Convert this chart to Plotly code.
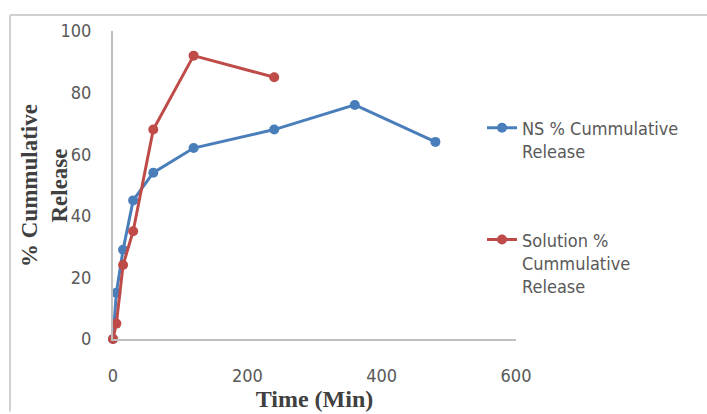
import plotly.graph_objects as go

# Sampling times (minutes) and cumulative drug release (%)
time_ns = [0, 5, 15, 30, 60, 120, 240, 360, 480]
release_ns = [0, 15, 29, 45, 54, 62, 68, 76, 64]

time_sol = [0, 5, 15, 30, 60, 120, 240]
release_sol = [0, 5, 24, 35, 68, 92, 85]

x_ticks = [0, 200, 400, 600]
y_ticks = [0, 20, 40, 60, 80, 100]

W, H = 707, 414
L, R, T, B = 113, 191, 31, 73
PW, PH = W - L - R, H - T - B


def px_to_paper(px, py):
    return (px - L) / PW, (H - B - py) / PH


BLUE = "#4A7EBB"
RED = "#BE4B48"
GREY_TXT = "#595959"
NARROW = "Liberation Sans Narrow, DejaVu Sans Condensed, sans-serif"
SERIF = "Liberation Serif, serif"

fig = go.Figure()
fig.add_trace(go.Scatter(
    x=time_ns, y=release_ns, mode="lines+markers",
    name="NS % Cummulative<br>Release",
    line=dict(color=BLUE, width=3),
    marker=dict(color=BLUE, size=10),
    legendgroup="ns", cliponaxis=False,
))
fig.add_trace(go.Scatter(
    x=time_sol, y=release_sol, mode="lines+markers",
    name="Solution %<br>Cummulative<br>Release",
    line=dict(color=RED, width=3),
    marker=dict(color=RED, size=10),
    legendgroup="sol", cliponaxis=False,
))

# outer chart frame (top and left edges)
x0, y0 = px_to_paper(10, 15)
x1, _ = px_to_paper(707, 15)
_, y1 = px_to_paper(10, 414)
fig.add_shape(type="line", xref="paper", yref="paper", x0=x0, y0=y0, x1=x1, y1=y0,
              line=dict(color="#D0D0D0", width=2))
fig.add_shape(type="line", xref="paper", yref="paper", x0=x0, y0=y0, x1=x0, y1=y1,
              line=dict(color="#D0D0D0", width=2))

# vertical axis title, set close to the tick labels
tx, ty = px_to_paper(45, 187)
fig.add_annotation(
    x=tx, y=ty, xref="paper", yref="paper", showarrow=False,
    text="<b>% Cummulative<br>Release</b>", textangle=-90,
    font=dict(family=SERIF, size=23, color="#404040"),
    xanchor="center", yanchor="middle",
)

lx, ly = px_to_paper(482, 110)

fig.update_layout(
    width=W, height=H,
    margin=dict(l=L, r=R, t=T, b=B),
    paper_bgcolor="white", plot_bgcolor="white",
    font=dict(family=NARROW, size=18, color=GREY_TXT),
    showlegend=True,
    legend=dict(
        x=lx, y=ly, xanchor="left", yanchor="top",
        traceorder="grouped", tracegroupgap=62, valign="top",
        font=dict(family=NARROW, size=18, color=GREY_TXT),
        bgcolor="rgba(0,0,0,0)",
    ),
    xaxis=dict(
        range=[0, 600], tickvals=x_ticks, showgrid=False, zeroline=False,
        showline=True, linecolor="#BFBFBF", linewidth=2,
        ticks="outside", ticklen=19, tickcolor="rgba(0,0,0,0)",
        tickfont=dict(family=NARROW, size=18, color=GREY_TXT),
        title=dict(text="<b>Time (Min)</b>", standoff=0,
                   font=dict(family=SERIF, size=24, color="#404040")),
    ),
    yaxis=dict(
        range=[0, 100], tickvals=y_ticks, showgrid=False, zeroline=False,
        showline=True, linecolor="#BFBFBF", linewidth=2,
        ticks="outside", ticklen=16, tickcolor="rgba(0,0,0,0)",
        tickfont=dict(family=NARROW, size=18, color=GREY_TXT),
    ),
)

fig.write_html("out.html")
